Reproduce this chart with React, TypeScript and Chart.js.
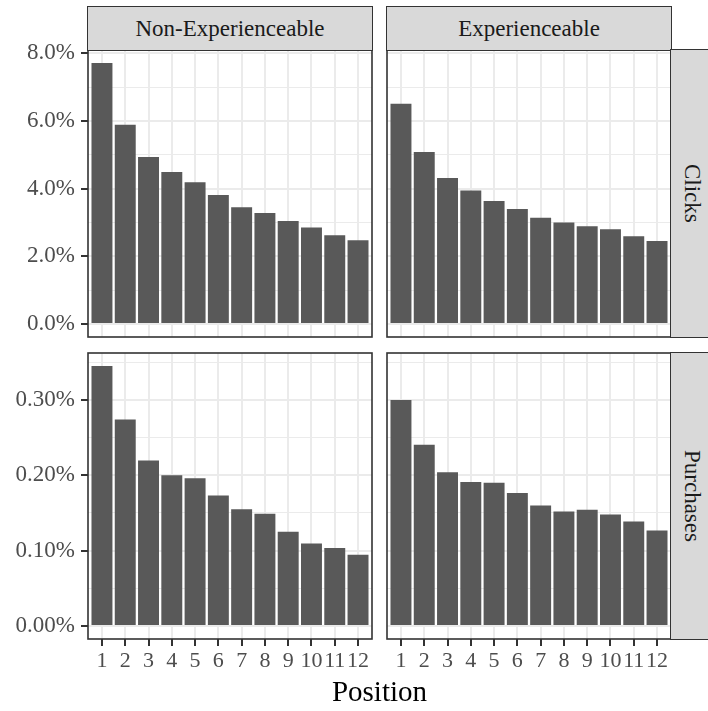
import React, { useEffect, useRef } from "react";
import { Chart, registerables } from "chart.js";

Chart.register(...registerables);

// ---- data ----
const positions = [1, 2, 3, 4, 5, 6, 7, 8, 9, 10, 11, 12];
const clicksNonExp = [7.71, 5.89, 4.93, 4.49, 4.19, 3.81, 3.45, 3.28, 3.04, 2.85, 2.62, 2.47];
const clicksExp = [6.51, 5.08, 4.31, 3.94, 3.63, 3.4, 3.14, 3.0, 2.89, 2.8, 2.59, 2.45];
const purchasesNonExp = [0.345, 0.274, 0.2195, 0.2, 0.196, 0.173, 0.155, 0.149, 0.125, 0.1095, 0.1034, 0.0946];
const purchasesExp = [0.3, 0.2406, 0.204, 0.191, 0.19, 0.1764, 0.16, 0.152, 0.1544, 0.148, 0.1385, 0.1266];
const clicksMajorTicks = [0, 2, 4, 6, 8];
const clicksMinorTicks = [1, 3, 5, 7];
const purchasesMajorTicks = [0, 0.1, 0.2, 0.3];
const purchasesMinorTicks = [0.05, 0.15, 0.25, 0.35];
const columnLabels = ["Non-Experienceable", "Experienceable"];
const rowLabels = ["Clicks", "Purchases"];
const xTitle = "Position";

const FONT = "'Liberation Serif', 'Times New Roman', serif";
const BAR = "#595959";
const GRID = "#ebebeb";
const DARK = "#333333";
const TICKTXT = "#4d4d4d";
const PAD_TOP = 20;

const borderPlugin = {
  id: "panelBorder",
  afterDraw(chart: any) {
    const { ctx, chartArea } = chart;
    ctx.save();
    ctx.strokeStyle = DARK;
    ctx.lineWidth = 1.6;
    ctx.strokeRect(chartArea.left, chartArea.top, chartArea.right - chartArea.left, chartArea.bottom - chartArea.top);
    ctx.restore();
  },
};

type PanelProps = {
  values: number[];
  rowMax: number;
  majors: number[];
  minors: number[];
  decimals: number;
  showY: boolean;
  showX: boolean;
  left: number;
  top: number;
  width: number;
  height: number;
  yw: number;
  xh: number;
};

function zeroPad(s: any) {
  s.paddingTop = 0;
  s.paddingBottom = 0;
  s.paddingLeft = 0;
  s.paddingRight = 0;
}

function Panel(p: PanelProps) {
  const ref = useRef<HTMLCanvasElement | null>(null);
  useEffect(() => {
    if (!ref.current) return;
    const isMajor = (v: number) => p.majors.some((m) => Math.abs(m - v) < 1e-9);
    const allTicks = [...p.majors, ...p.minors].sort((a, b) => a - b);
    const chart = new Chart(ref.current, {
      type: "bar",
      data: {
        datasets: [
          {
            data: positions.map((x, i) => ({ x, y: p.values[i] })),
            backgroundColor: BAR,
            borderWidth: 0,
            categoryPercentage: 1,
            barPercentage: 0.9,
          } as any,
        ],
      },
      options: {
        animation: false,
        responsive: false,
        maintainAspectRatio: false,
        layout: { padding: { top: PAD_TOP, right: 2, left: 0, bottom: 0 } },
        plugins: { legend: { display: false }, tooltip: { enabled: false } },
        scales: {
          x: {
            type: "linear",
            min: 0.4,
            max: 12.6,
            offset: false,
            afterBuildTicks: (s: any) => {
              s.ticks = positions.map((v) => ({ value: v }));
            },
            afterFit: (s: any) => {
              s.height = p.xh;
              zeroPad(s);
            },
            ticks: {
              display: p.showX,
              autoSkip: false,
              maxRotation: 0,
              minRotation: 0,
              padding: 2,
              color: TICKTXT,
              font: { family: FONT, size: 22 },
              callback: (v: any) => String(v),
            },
            grid: {
              offset: false,
              color: GRID,
              lineWidth: 2,
              drawTicks: p.showX,
              tickLength: 7,
              tickColor: DARK,
              tickWidth: 2,
            },
            border: { display: false },
          } as any,
          y: {
            type: "linear",
            min: -0.05 * p.rowMax,
            max: 1.05 * p.rowMax,
            afterBuildTicks: (s: any) => {
              s.ticks = allTicks.map((v) => ({ value: v }));
            },
            afterFit: (s: any) => {
              s.width = p.yw;
              zeroPad(s);
            },
            ticks: {
              display: p.showY,
              autoSkip: false,
              padding: 6,
              color: TICKTXT,
              font: { family: FONT, size: 23 },
              callback: (v: any) => (isMajor(v) ? Number(v).toFixed(p.decimals) + "%" : ""),
            },
            grid: {
              color: GRID,
              lineWidth: (c: any) => (c.tick && !isMajor(c.tick.value) ? 1.1 : 2),
              drawTicks: p.showY,
              tickLength: 7,
              tickColor: (c: any) => (c.tick && isMajor(c.tick.value) ? DARK : "rgba(0,0,0,0)"),
              tickWidth: 2,
            },
            border: { display: false },
          } as any,
        },
      },
      plugins: [borderPlugin],
    } as any);
    return () => chart.destroy();
  }, []);
  return (
    <canvas
      ref={ref}
      width={p.width}
      height={p.height}
      style={{ position: "absolute", left: p.left, top: p.top, width: p.width, height: p.height }}
    />
  );
}

const stripBase: React.CSSProperties = {
  position: "absolute",
  boxSizing: "border-box",
  background: "#d9d9d9",
  border: `1.5px solid ${DARK}`,
  fontFamily: FONT,
  fontSize: 23,
  color: "#1a1a1a",
  display: "flex",
  alignItems: "center",
  justifyContent: "center",
};

export default function App() {
  const clicksMax = Math.max(...clicksNonExp, ...clicksExp);
  const purchasesMax = Math.max(...purchasesNonExp, ...purchasesExp);
  return (
    <div style={{ position: "absolute", left: 0, top: 0, width: 708, height: 711, background: "#fff", overflow: "hidden" }}>
      <Panel values={clicksNonExp} rowMax={clicksMax} majors={clicksMajorTicks} minors={clicksMinorTicks} decimals={1}
        showY={true} showX={false} left={0} top={50 - PAD_TOP} width={374} height={287 + PAD_TOP + 2} yw={88} xh={2} />
      <Panel values={clicksExp} rowMax={clicksMax} majors={clicksMajorTicks} minors={clicksMinorTicks} decimals={1}
        showY={false} showX={false} left={385} top={50 - PAD_TOP} width={288} height={287 + PAD_TOP + 2} yw={2} xh={2} />
      <Panel values={purchasesNonExp} rowMax={purchasesMax} majors={purchasesMajorTicks} minors={purchasesMinorTicks} decimals={2}
        showY={true} showX={true} left={0} top={353 - PAD_TOP} width={374} height={286 + PAD_TOP + 40} yw={88} xh={40} />
      <Panel values={purchasesExp} rowMax={purchasesMax} majors={purchasesMajorTicks} minors={purchasesMinorTicks} decimals={2}
        showY={false} showX={true} left={385} top={353 - PAD_TOP} width={288} height={286 + PAD_TOP + 40} yw={2} xh={40} />

      <div style={{ ...stripBase, left: 87, top: 6, width: 286, height: 45 }}>{columnLabels[0]}</div>
      <div style={{ ...stripBase, left: 386, top: 6, width: 286, height: 45 }}>{columnLabels[1]}</div>
      <div style={{ ...stripBase, left: 670, top: 49, width: 44, height: 289, writingMode: "vertical-rl" }}>
        <span>{rowLabels[0]}</span>
      </div>
      <div style={{ ...stripBase, left: 670, top: 352, width: 44, height: 288, writingMode: "vertical-rl" }}>
        <span>{rowLabels[1]}</span>
      </div>
      <div
        style={{
          position: "absolute",
          left: 88,
          width: 583,
          top: 677,
          height: 29,
          lineHeight: "29px",
          textAlign: "center",
          fontFamily: FONT,
          fontSize: 29,
          color: "#000",
        }}
      >
        {xTitle}
      </div>
    </div>
  );
}
